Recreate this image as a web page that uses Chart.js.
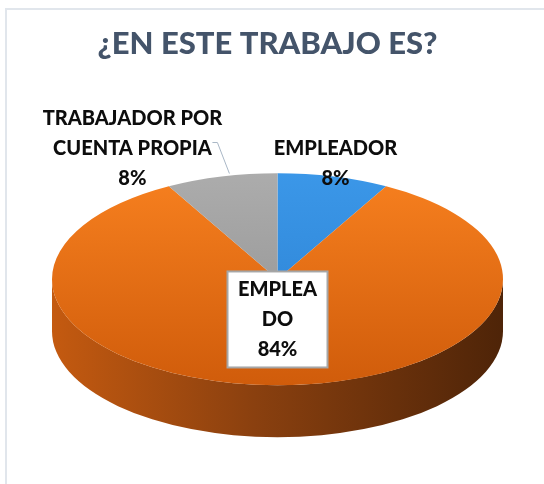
<!DOCTYPE html>
<html>
<head>
<meta charset="utf-8">
<script src="https://cdn.jsdelivr.net/npm/chart.js@4"></script>
<style>
  html, body { margin: 0; padding: 0; background: #fff; overflow: hidden; }
  #wrap { position: relative; width: 544px; height: 484px; }
  #frame {
    position: absolute; left: 5px; top: 8px; width: 700px; height: 700px;
    border: 2px solid #e1e6ec;
  }
  #chart { position: absolute; left: 0; top: 0; }
</style>
</head>
<body>
<div id="wrap">
  <div id="frame"></div>
  <canvas id="chart" width="544" height="484"></canvas>
</div>
<script>
// -----------------------------
// Data
// -----------------------------
const TITLE = "¿EN ESTE TRABAJO ES?"
const CATEGORIES = ["EMPLEADOR", "EMPLEADO", "TRABAJADOR POR CUENTA PROPIA"]
const VALUES = [8, 84, 8]
const LABEL_LINES = [["EMPLEADOR"], ["EMPLEA", "DO"], ["TRABAJADOR POR", "CUENTA PROPIA"]]

// -----------------------------
// Styles
// -----------------------------
const TOP_COLORS = [
  ["#3b97e8", "#2a7fd0"],
  ["#f7801f", "#d05c0b"],
  ["#acacac", "#8f8f8f"]
]
const SIDE_COLORS = [
  ["#2a6fb4", "#17406c"],
  ["#c45a10", "#4e2408"],
  ["#8a8a8a", "#4e4e4e"]
]
const LABEL_PLACES = [
  { pos: "outside", dx: 2, dy: -13 },
  { pos: "inside", r: 0.38, box: true },
  { pos: "outside", dx: -89, dy: -28, leader: true }
]

const PIE3D = { tilt: 0.47, depth: 52, offsetX: 10 }
const LABEL_FONT = "900 20px Lato"

// ellipse for the top face, worked out from the chart area
function geom(chart) {
  const a = chart.chartArea
  const rx = (a.right - a.left) / 2
  const ry = rx * PIE3D.tilt
  return { cx: (a.left + a.right) / 2 + PIE3D.offsetX, cy: a.top + ry, rx, ry }
}

function rim(g, ang, f = 1) {
  return { x: g.cx + g.rx * f * Math.cos(ang), y: g.cy + g.ry * f * Math.sin(ang) }
}

// -----------------------------
// 3D pie: side walls + squashed top
// -----------------------------
const pie3d = {
  id: "pie3d",
  beforeDatasetsDraw(chart) {
    const ctx = chart.ctx
    const g = geom(chart)
    const arcs = chart.getDatasetMeta(0).data
    const d = PIE3D.depth

    arcs.forEach((arc, i) => {
      // only the front half (0..PI) of the wall is visible
      const TAU = Math.PI * 2
      let s = arc.startAngle, e = arc.endAngle
      for (let k = -1; k <= 1; k++) {
        const lo = Math.max(s, k * TAU), hi = Math.min(e, k * TAU + Math.PI)
        if (hi <= lo) continue
        const grad = ctx.createLinearGradient(g.cx - g.rx, 0, g.cx + g.rx, 0)
        grad.addColorStop(0, SIDE_COLORS[i][0])
        grad.addColorStop(0.45, "#8a400f")
        grad.addColorStop(1, SIDE_COLORS[i][1])
        ctx.save()
        ctx.beginPath()
        ctx.ellipse(g.cx, g.cy, g.rx, g.ry, 0, lo, hi)
        ctx.ellipse(g.cx, g.cy + d, g.rx, g.ry, 0, hi, lo, true)
        ctx.closePath()
        ctx.fillStyle = i === 1 ? grad : SIDE_COLORS[i][0]
        ctx.fill()
        ctx.restore()
      }
    })

    // squash the flat pie onto the ellipse
    const arc = arcs[0]
    const R = arc.outerRadius
    ctx.save()
    ctx.translate(g.cx, g.cy)
    ctx.scale(g.rx / R, g.ry / R)
    ctx.translate(-arc.x, -arc.y)
  },
  afterDatasetsDraw(chart) {
    chart.ctx.restore()
  }
}

// -----------------------------
// Data labels
// -----------------------------
const pieLabels = {
  id: "pieLabels",
  afterDraw(chart) {
    const ctx = chart.ctx
    const g = geom(chart)
    const arcs = chart.getDatasetMeta(0).data
    const total = VALUES.reduce((a, b) => a + b, 0)
    const lh = 30

    ctx.save()
    ctx.font = LABEL_FONT
    ctx.textAlign = "center"
    ctx.textBaseline = "middle"

    arcs.forEach((arc, i) => {
      const place = LABEL_PLACES[i]
      const mid = (arc.startAngle + arc.endAngle) / 2
      const lines = LABEL_LINES[i].concat([Math.round(VALUES[i] / total * 100) + "%"])
      let c
      if (place.pos === "inside") {
        c = rim(g, mid, place.r)
      } else {
        const p = rim(g, mid)
        c = { x: p.x + place.dx, y: p.y + place.dy }
      }
      const h = lines.length * lh

      if (place.box) {
        const w = 100
        ctx.fillStyle = "#fff"
        ctx.fillRect(c.x - w / 2, c.y - h / 2 - 3, w, h + 6)
        ctx.strokeStyle = "#a6a6a6"
        ctx.lineWidth = 2
        ctx.strokeRect(c.x - w / 2, c.y - h / 2 - 3, w, h + 6)
      }

      if (place.leader) {
        const p = rim(g, mid)
        const end = { x: c.x + 80, y: c.y - 6 }
        ctx.beginPath()
        ctx.moveTo(p.x + 8, p.y - 3)
        ctx.lineTo(end.x + 5, end.y)
        ctx.lineTo(end.x, end.y)
        ctx.strokeStyle = "#a9b7c6"
        ctx.lineWidth = 1
        ctx.stroke()
      }

      ctx.fillStyle = "#0d0d0d"
      lines.forEach((l, k) => {
        ctx.fillText(l, c.x, c.y - h / 2 + lh / 2 + k * lh)
      })
    })
    ctx.restore()
  }
}

// vertical shading on each top face slice
function topFill(c) {
  const chart = c.chart
  const a = chart.chartArea
  const i = c.dataIndex
  if (!a) return TOP_COLORS[i][0]
  const R = Math.min(a.right - a.left, a.bottom - a.top) / 2
  const y = (a.top + a.bottom) / 2
  const grad = chart.ctx.createLinearGradient(0, y - R, 0, y + R)
  grad.addColorStop(0, TOP_COLORS[i][0])
  grad.addColorStop(1, TOP_COLORS[i][1])
  return grad
}

new Chart(document.getElementById("chart"), {
  type: "pie",
  data: {
    labels: CATEGORIES,
    datasets: [{
      data: VALUES,
      backgroundColor: topFill,
      borderWidth: 0,
      clip: false
    }]
  },
  options: {
    responsive: false,
    animation: false,
    events: [],
    layout: { padding: { left: 42, right: 51, top: 0, bottom: 0 } },
    plugins: {
      legend: { display: false },
      tooltip: { enabled: false },
      title: {
        display: true,
        text: TITLE,
        color: "#44546a",
        font: { family: "Lato", size: 31, weight: 900, lineHeight: 1.2 },
        padding: { top: 25, bottom: 111 }
      }
    }
  },
  plugins: [pie3d, pieLabels]
})
</script>
</body>
</html>
